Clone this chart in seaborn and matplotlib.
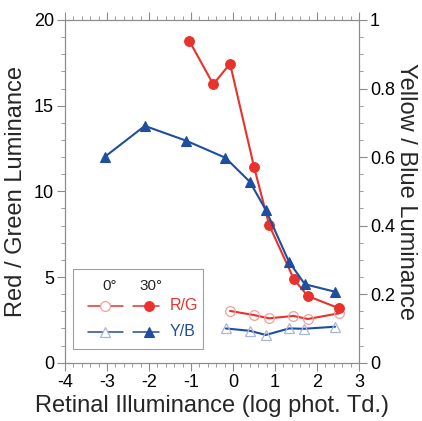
import numpy as np
import pandas as pd
import matplotlib
matplotlib.use("Agg")
import matplotlib.pyplot as plt
from matplotlib.ticker import MultipleLocator
from matplotlib.lines import Line2D
from matplotlib.patches import Rectangle
import seaborn as sns

# ---- data ----
rg30_x = [-1.04, -0.47, -0.07, 0.50, 0.86, 1.45, 1.78, 2.52]
rg30_y = [18.78, 16.25, 17.45, 11.44, 8.04, 4.87, 3.89, 3.18]
rg0_x = [-0.07, 0.50, 0.86, 1.44, 1.78, 2.52]
rg0_y = [3.02, 2.78, 2.59, 2.73, 2.55, 2.88]
yb30_x = [-3.05, -2.10, -1.12, -0.18, 0.40, 0.78, 1.33, 1.71, 2.43]
yb30_y = [0.601, 0.691, 0.648, 0.598, 0.528, 0.446, 0.295, 0.229, 0.207]
yb0_x = [-0.17, 0.40, 0.78, 1.34, 1.69, 2.43]
yb0_y = [0.100, 0.093, 0.081, 0.100, 0.099, 0.105]

RED = "#E8322B"
RED_LIGHT = "#F4A09A"
BLUE = "#1F4E9E"
BLUE_LIGHT = "#A9B5DC"
GRAY = "#8C8C8C"

sns.set_style("white")
plt.rcParams["font.family"] = ["Liberation Sans", "DejaVu Sans"]
plt.rcParams["axes.unicode_minus"] = False

fig = plt.figure(figsize=(4.22, 4.21), dpi=100)
ax = fig.add_axes([65 / 422, 1 - 362.7 / 421, 294 / 422, 342.7 / 421])
ax2 = ax.twinx()

# left axis: R/G
sns.lineplot(x=rg0_x, y=rg0_y, ax=ax, color=RED, lw=1.5, marker="o", markersize=7,
             markerfacecolor="none", markeredgecolor=RED_LIGHT, markeredgewidth=0.9,
             estimator=None, sort=False, zorder=3)
sns.lineplot(x=rg30_x, y=rg30_y, ax=ax, color=RED, lw=1.5, marker="o", markersize=7,
             markerfacecolor=RED, markeredgecolor=RED, markeredgewidth=0.8,
             estimator=None, sort=False, zorder=3)
# right axis: Y/B
sns.lineplot(x=yb0_x, y=yb0_y, ax=ax2, color=BLUE, lw=1.5, marker="^", markersize=7,
             markerfacecolor="none", markeredgecolor=BLUE_LIGHT, markeredgewidth=0.9,
             estimator=None, sort=False, zorder=3)
sns.lineplot(x=yb30_x, y=yb30_y, ax=ax2, color=BLUE, lw=1.5, marker="^", markersize=7,
             markerfacecolor=BLUE, markeredgecolor=BLUE, markeredgewidth=0.8,
             estimator=None, sort=False, zorder=3)

ax.set_xlim(-4, 3)
ax.set_ylim(0, 20)
ax2.set_ylim(0, 1)

ax.xaxis.set_major_locator(MultipleLocator(1))
ax.xaxis.set_minor_locator(MultipleLocator(0.2))
ax.yaxis.set_major_locator(MultipleLocator(5))
ax.yaxis.set_minor_locator(MultipleLocator(1))
ax2.set_yticks([0, 0.2, 0.4, 0.6, 0.8, 1.0])
ax2.set_yticklabels(["0", "0.2", "0.4", "0.6", "0.8", "1"])
ax2.yaxis.set_minor_locator(MultipleLocator(0.05))

for a in (ax, ax2):
    for s in a.spines.values():
        s.set_color(GRAY)
        s.set_linewidth(0.8)
    a.tick_params(which="major", direction="out", length=6, width=0.8, color=GRAY,
                  labelsize=13, labelcolor="black", pad=2)
    a.tick_params(which="minor", direction="out", length=3, width=0.6, color=GRAY)
ax.tick_params(which="both", top=True, bottom=True, left=True, right=False, labeltop=False)
ax2.tick_params(which="both", right=True, left=False)

ax.set_xlabel("Retinal Illuminance (log phot. Td.)", fontsize=17, labelpad=3)
ax.set_ylabel("Red / Green Luminance", fontsize=17, labelpad=5)
ax2.set_ylabel("Yellow / Blue Luminance", fontsize=17, rotation=-90, labelpad=16)

# legend box (drawn in axes fraction coordinates)
ax2.add_patch(Rectangle((0.028, 0.039), 0.442, 0.234, transform=ax.transAxes,
                        fill=True, facecolor="white", edgecolor="#A0A0A0", lw=0.8, zorder=5))
ax2.text(0.153, 0.224, "0°", transform=ax.transAxes, ha="center", va="center",
         fontsize=11, zorder=6)
ax2.text(0.292, 0.224, "30°", transform=ax.transAxes, ha="center", va="center",
         fontsize=11, zorder=6)
for yrow, col, lcol, mk, lab in [(0.166, RED, RED_LIGHT, "o", "R/G"),
                                  (0.0905, BLUE, BLUE_LIGHT, "^", "Y/B")]:
    ax2.add_line(Line2D([0.077, 0.196], [yrow, yrow], transform=ax.transAxes,
                        color=col, lw=1.1, zorder=6))
    ax2.add_line(Line2D([0.136], [yrow], transform=ax.transAxes, marker=mk,
                        markersize=7, mfc="white", mec=lcol, mew=0.9, zorder=7))
    ax2.add_line(Line2D([0.230, 0.320], [yrow, yrow], transform=ax.transAxes,
                        color=col, lw=1.1, zorder=6))
    ax2.add_line(Line2D([0.287], [yrow], transform=ax.transAxes, marker=mk,
                        markersize=7, mfc=col, mec=col, mew=0.8, zorder=7))
    ax2.text(0.356, yrow, lab, transform=ax.transAxes, ha="left", va="center",
             fontsize=11.5, color=col, zorder=7)

fig.savefig("out.png", dpi=100)
